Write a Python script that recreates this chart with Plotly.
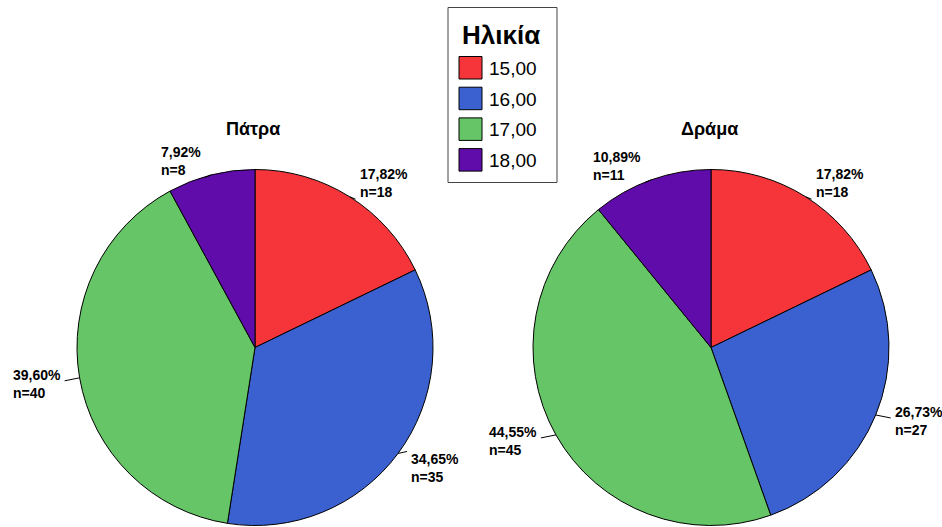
import math
import plotly.graph_objects as go

W, H = 942, 527

categories = ["15,00", "16,00", "17,00", "18,00"]
patra_counts = [18, 35, 40, 8]
drama_counts = [18, 27, 45, 11]
panel_titles = ["Πάτρα", "Δράμα"]
legend_title = "Ηλικία"

colors = ["#f5353a", "#3b60cf", "#66c566", "#600cab"]

# layout (pixels)
centers = [(255, 347.5), (711, 347.5)]
radius = 178
label_font = dict(family="Liberation Sans Narrow, Liberation Sans, Arial", size=14, color="black")

fig = go.Figure()
shapes = []
annotations = []


def px(x):
    return x / W


def py(y):
    return 1 - y / H


for (cx, cy), counts, title in zip(centers, [patra_counts, drama_counts], panel_titles):
    fig.add_trace(go.Pie(
        labels=categories, values=counts, sort=False, direction="clockwise", rotation=0,
        marker=dict(colors=colors, line=dict(color="black", width=1)),
        textinfo="none", hoverinfo="label+value+percent", showlegend=False,
        domain=dict(x=[px(cx - radius), px(cx + radius)], y=[py(cy + radius), py(cy - radius)]),
    ))
    annotations.append(dict(
        x=px(cx - 2), y=py(129), xref="paper", yref="paper", text="<b>%s</b>" % title,
        showarrow=False, font=dict(family="Liberation Sans, Arial", size=18, color="black"),
        xanchor="center", yanchor="middle"))
    total = sum(counts)
    cum = 0
    for v in counts:
        mid = (cum + v / 2) / total * 2 * math.pi
        cum += v
        s, c = math.sin(mid), math.cos(mid)
        ex, ey = cx + radius * s, cy - radius * c
        if c > 0.55:
            ya, gap, dy = "bottom", 8, 5
        elif c < -0.55:
            ya, gap, dy = "top", 11, -4
        else:
            ya, gap, dy = "middle", 17, 6
        xa = "left" if s > 0 else "right"
        sign = 1 if s > 0 else -1
        lx, ly = ex + sign * gap, ey + dy
        shapes.append(dict(type="line", xref="paper", yref="paper",
                           x0=px(ex), y0=py(ey), x1=px(lx - sign * 2), y1=py(ly - dy / 2),
                           line=dict(color="black", width=1)))
        pct = ("%.2f" % (100 * v / total)).replace(".", ",")
        annotations.append(dict(
            x=px(lx), y=py(ly), xref="paper", yref="paper",
            text="<b>%s%%<br>n=%d</b>" % (pct, v), showarrow=False, align="left",
            xanchor=xa, yanchor=ya, font=label_font))

# custom legend
lx0, ly0, lx1, ly1 = 448, 7.5, 557, 182.5
shapes.append(dict(type="rect", xref="paper", yref="paper",
                   x0=px(lx0), y0=py(ly1), x1=px(lx1), y1=py(ly0),
                   line=dict(color="#444444", width=1), fillcolor="white", layer="below"))
annotations.append(dict(x=px(501), y=py(35), xref="paper", yref="paper",
                        text="<b>%s</b>" % legend_title, showarrow=False,
                        font=dict(family="Liberation Sans, Arial", size=26, color="black"),
                        xanchor="center", yanchor="middle"))
for i, (cat, col) in enumerate(zip(categories, colors)):
    top = 56.5 + i * 30.7
    shapes.append(dict(type="rect", xref="paper", yref="paper",
                       x0=px(459), y0=py(top + 22.5), x1=px(482), y1=py(top),
                       line=dict(color="black", width=1), fillcolor=col))
    annotations.append(dict(x=px(487), y=py(top + 12), xref="paper", yref="paper",
                            text=cat, showarrow=False,
                            font=dict(family="Liberation Sans, Arial", size=19, color="black"),
                            xanchor="left", yanchor="middle"))

fig.update_layout(
    width=W, height=H, margin=dict(l=0, r=0, t=0, b=0),
    paper_bgcolor="white", plot_bgcolor="white",
    shapes=shapes, annotations=annotations, showlegend=False,
)

fig.write_html("out.html", config={"displayModeBar": False},
               post_script="document.body.style.margin='0px';document.body.style.padding='0px';")
